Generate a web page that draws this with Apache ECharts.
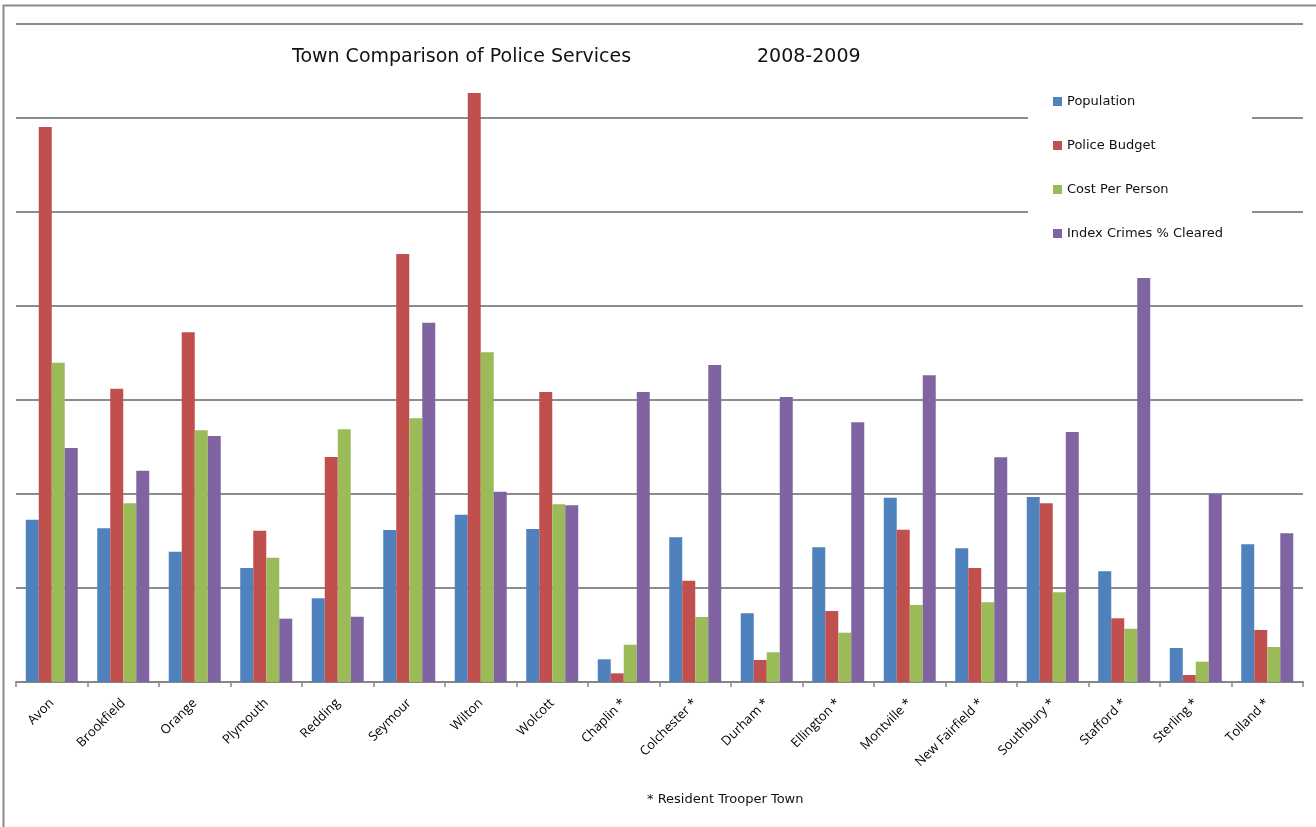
<!DOCTYPE html>
<html>
<head>
<meta charset="utf-8">
<script src="https://cdn.jsdelivr.net/npm/echarts@6/dist/echarts.min.js"></script>
<style>
html,body{margin:0;padding:0;background:#fff;}
#chart{width:1316px;height:827px;}
</style>
</head>
<body>
<div id="chart"></div>
<script>
const towns = ['Avon','Brookfield','Orange','Plymouth','Redding','Seymour','Wilton','Wolcott','Chaplin *','Colchester *','Durham *','Ellington *','Montville *','New Fairfield *','Southbury *','Stafford *','Sterling *','Tolland *'];
const population   = [172.5,163.3,138.5,121.1,88.9,161.5,177.8,162.6,24.1,153.8,73.0,143.1,195.9,142.1,196.6,117.6,36.1,146.3];
const policeBudget = [589.8,311.7,371.6,160.8,239.1,454.8,625.9,308.2,9.2,107.7,23.4,75.5,161.9,121.1,189.9,67.7,7.4,55.3];
const costPerPerson= [339.3,189.9,267.5,132.1,268.5,280.2,350.4,188.8,39.6,69.1,31.6,52.4,81.8,84.7,95.3,56.6,21.6,37.2];
const indexCrimes  = [248.7,224.5,261.4,67.3,69.4,381.8,202.2,187.8,308.2,336.9,302.9,276.0,325.9,238.8,265.7,429.3,199.8,158.0];
const seriesNames = ['Population','Police Budget','Cost Per Person','Index Crimes % Cleared'];
const colors = ['#4F81BD','#C0504D','#9BBB59','#8064A2'];
const seriesData = [population, policeBudget, costPerPerson, indexCrimes];

const chart = echarts.init(document.getElementById('chart'));
chart.setOption({
  animation: false,
  color: colors,
  title: [
    {text: 'Town Comparison of Police Services', left: 292, top: 48, padding: 0,
     textStyle: {fontFamily: 'DejaVu Sans', fontSize: 19, fontWeight: 'normal', color: '#111'}},
    {text: '2008-2009', left: 757, top: 48, padding: 0,
     textStyle: {fontFamily: 'DejaVu Sans', fontSize: 19, fontWeight: 'normal', color: '#111'}}
  ],
  graphic: [
    {type: 'rect', shape: {x: 3.5, y: 5.5, width: 1330, height: 840}, silent: true, z: 0,
     style: {fill: 'none', stroke: '#8c8c8c', lineWidth: 2}},
    {type: 'rect', shape: {x: 1028, y: 80, width: 224, height: 176}, silent: true, z: 1,
     style: {fill: '#fff'}},
    {type: 'text', left: 647, top: 793, silent: true,
     style: {text: '* Resident Trooper Town', fontFamily: 'DejaVu Sans', fontSize: 13, fill: '#111'}}
  ],
  legend: {
    orient: 'vertical', left: 1053, top: 95, padding: 0, z: 5,
    itemWidth: 9, itemHeight: 9, itemGap: 31, icon: 'rect',
    textStyle: {fontFamily: 'DejaVu Sans', fontSize: 13, color: '#111', padding: [0,0,0,0]},
    data: seriesNames
  },
  grid: {left: 16, right: 13, top: 23.3, bottom: 145, containLabel: false},
  xAxis: {
    type: 'category', data: towns,
    axisLine: {lineStyle: {color: '#868686', width: 2}},
    axisTick: {show: true, length: 5, lineStyle: {color: '#868686', width: 1.5}},
    axisLabel: {rotate: 45, interval: 0, margin: 19, fontFamily: 'Open Sans', fontSize: 13, color: '#000'}
  },
  yAxis: {
    type: 'value', min: 0, max: 700, interval: 100,
    axisLabel: {show: false}, axisLine: {show: false}, axisTick: {show: false},
    splitLine: {lineStyle: {color: '#8c8c8c', width: 2}}
  },
  series: seriesNames.map((n, i) => ({
    name: n, type: 'bar', data: seriesData[i], barWidth: 13, barGap: '0%',
    itemStyle: {color: colors[i]}
  }))
});
</script>
</body>
</html>
